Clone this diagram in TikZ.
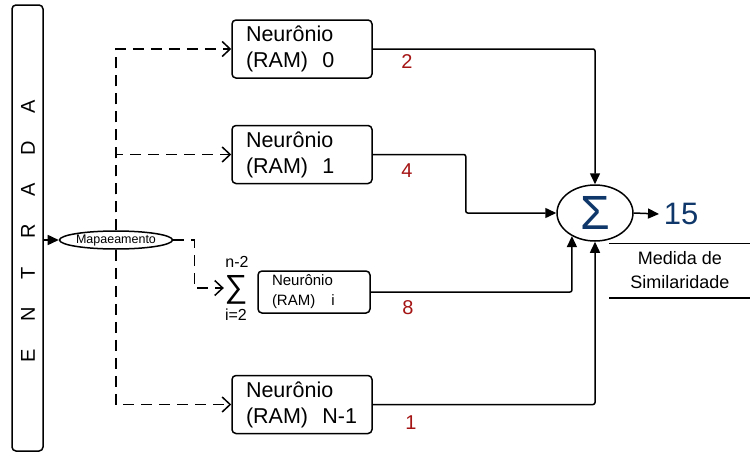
\documentclass[tikz,border=0pt]{standalone}
\usepackage{fontspec}
\setmainfont{Liberation Sans}
\usetikzlibrary{shapes.geometric, arrows.meta, positioning}
\definecolor{weightred}{RGB}{165,20,20}
\definecolor{sumblue}{RGB}{15,55,105}

\begin{document}
\begin{tikzpicture}[
    x=1pt, y=-1pt, line width=1.5pt,
    neuron/.style={draw, rounded corners=4pt, minimum width=140pt, minimum height=58pt, text width=112pt, align=left, inner sep=0pt, font=\fontsize{21.5}{26}\selectfont},
    smallneuron/.style={draw, rounded corners=4pt, minimum width=112pt, minimum height=42pt, text width=84pt, align=left, inner sep=0pt, font=\fontsize{15}{20}\selectfont},
    weight/.style={text=weightred, font=\fontsize{20}{20}\selectfont},
    arr/.style={-{Triangle[length=11pt, width=10pt]}},
    dasharr/.style={-{Straight Barb[length=8pt, width=15pt]}, dash pattern=on 11pt off 7pt}
]
\useasboundingbox (0,0) rectangle (750,455);

% entrada
\node[draw, rounded corners=4pt, minimum width=31pt, minimum height=446pt, inner sep=0pt] (entrada) at (27.5,228) {};
\foreach \l [count=\k] in {E,N,T,R,A,D,A}
    \node[rotate=90, font=\fontsize{20}{20}\selectfont] (ltr\k) at (28, 356-41.5*\k+41.5) {\l};

\node[draw, ellipse, minimum width=110pt, minimum height=18pt, inner sep=0pt, font=\fontsize{12.5}{12.5}\selectfont] (mapa) at (116,240) {Mapaeamento};

% neuronios
\node[neuron] (n0) at (302,49) {Neurônio\\(RAM)~~0};
\node[neuron] (n1) at (302,154.5) {Neurônio\\(RAM)~~1};
\node[smallneuron] (ni) at (314,292) {Neurônio\\(RAM)\hspace{16pt}i};
\node[neuron] (nN) at (302,404.5) {Neurônio\\(RAM)~~N-1};

\node[font=\fontsize{32}{32}\selectfont, inner sep=0pt, text height=21pt, text depth=3pt] (bigsum) at (236,288) {∑};
\node[font=\fontsize{16}{16}\selectfont, inner sep=0pt] (supn) at (237,262) {n-2};
\node[font=\fontsize{16}{16}\selectfont, inner sep=0pt] (subi) at (236,315) {i=2};

% soma
\node[draw, ellipse, minimum width=76pt, minimum height=56pt, inner sep=0pt, text=sumblue, font=\fontsize{48}{48}\selectfont] (soma) at (595,213) {Σ};
\node[text=sumblue, font=\fontsize{31}{31}\selectfont, inner sep=4pt] (score) at (681,214) {15};
\node[minimum width=140pt, minimum height=53pt, align=center, inner sep=0pt, font=\fontsize{18}{24}\selectfont] (medida) at (680,270.5) {Medida de\\Similaridade};
\draw (medida.north west) -- (medida.north east);
\draw (medida.south west) -- (medida.south east);

% pesos
\node[weight] (w0) at (407,62) {2};
\node[weight] (w1) at (407,171) {4};
\node[weight] (wi) at (408,308) {8};
\node[weight] (wN) at (411,423) {1};

\draw[arr] (entrada.east |- mapa.west) -- (mapa.west);
\draw[dasharr] (mapa.north) |- (n0.west);
\draw[dasharr] (mapa.north) |- (n1.west);
\draw[dasharr] (mapa.south) |- (nN.west);
\draw[dasharr] (mapa.east) -- ++(21,0) |- (bigsum.west);

\draw[arr, rounded corners=2pt] (n0.east) -| (soma.north);
\draw[arr, rounded corners=2pt] (n1.east) -- ++(93,0) |- (soma.west);
\draw[arr, rounded corners=2pt] (ni.east) -| (soma.225);
\draw[arr, rounded corners=2pt] (nN.east) -| (soma.south);
\draw[arr] (soma.east) -- (score.west);

\end{tikzpicture}
\end{document}
